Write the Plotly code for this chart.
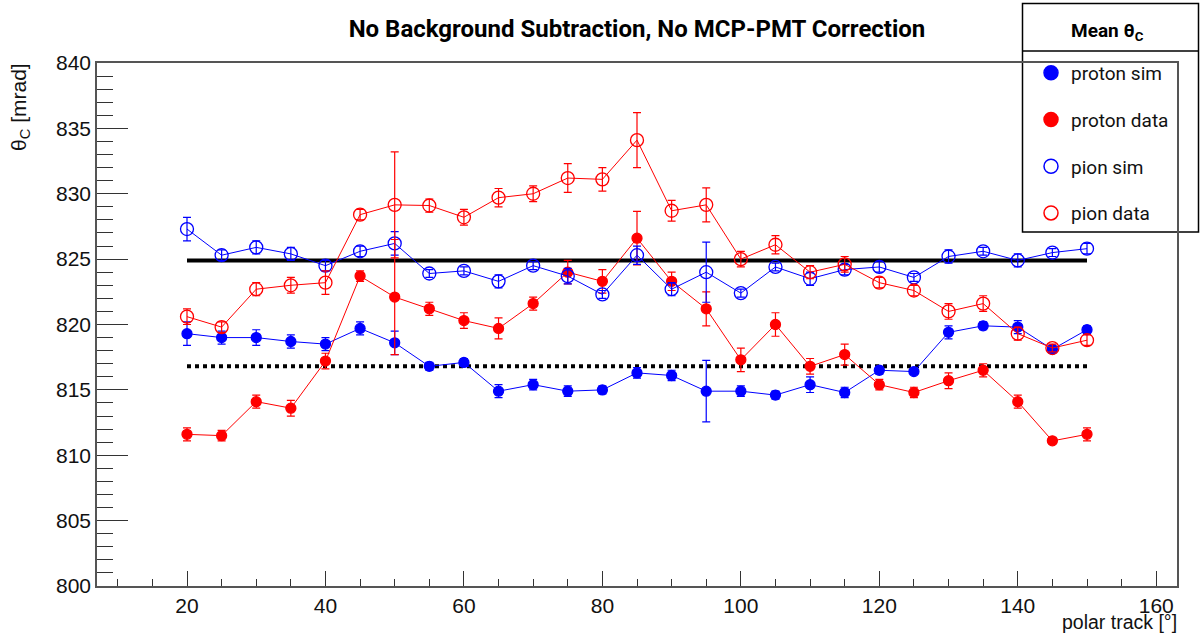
import plotly.graph_objects as go

# ---------------- data ----------------
polar = [20, 25, 30, 35, 40, 45, 50, 55, 60, 65, 70, 75, 80, 85, 90, 95,
         100, 105, 110, 115, 120, 125, 130, 135, 140, 145, 150]

proton_sim = [819.3, 819.0, 819.0, 818.7, 818.5, 819.7, 818.6, 816.8, 817.1, 814.9,
              815.4, 814.9, 815.0, 816.3, 816.1, 814.9, 814.9, 814.6, 815.4, 814.8,
              816.5, 816.4, 819.4, 819.9, 819.8, 818.1, 819.6]
proton_sim_err = [0.9, 0.5, 0.6, 0.5, 0.5, 0.5, 0.9, 0.3, 0.3, 0.5, 0.4, 0.4, 0.3, 0.4,
                  0.4, 2.35, 0.4, 0.3, 0.6, 0.4, 0.3, 0.2, 0.5, 0.3, 0.5, 0.3, 0.3]

proton_data = [811.6, 811.5, 814.1, 813.6, 817.2, 823.7, 822.1, 821.2, 820.3, 819.7,
               821.6, 824.0, 823.3, 826.6, 823.3, 821.2, 817.3, 820.0, 816.8, 817.7,
               815.4, 814.8, 815.7, 816.5, 814.1, 811.1, 811.6]
proton_data_err = [0.5, 0.4, 0.5, 0.6, 0.6, 0.4, 4.4, 0.5, 0.6, 0.8, 0.5, 0.9, 0.9, 2.05,
                   0.7, 1.3, 0.9, 0.9, 0.6, 0.8, 0.4, 0.4, 0.6, 0.5, 0.5, 0.2, 0.5]

pion_sim = [827.3, 825.3, 825.9, 825.4, 824.5, 825.6, 826.2, 823.9, 824.1, 823.3,
            824.5, 823.7, 822.3, 825.3, 822.7, 824.0, 822.4, 824.4, 823.5, 824.2,
            824.4, 823.6, 825.2, 825.6, 824.9, 825.5, 825.8]
pion_sim_err = [0.9, 0.4, 0.5, 0.5, 0.4, 0.4, 0.9, 0.3, 0.3, 0.5, 0.3, 0.6, 0.3, 0.7,
                0.5, 2.3, 0.3, 0.3, 0.5, 0.4, 0.4, 0.3, 0.5, 0.3, 0.5, 0.3, 0.4]

pion_data = [820.6, 819.8, 822.7, 823.0, 823.2, 828.4, 829.15, 829.1, 828.2, 829.7,
             830.0, 831.2, 831.1, 834.1, 828.7, 829.15, 825.0, 826.1, 824.0, 824.6,
             823.2, 822.6, 821.0, 821.6, 819.3, 818.2, 818.8]
pion_data_err = [0.6, 0.4, 0.5, 0.6, 0.9, 0.4, 4.05, 0.5, 0.6, 0.7, 0.6, 1.1, 0.9, 2.1,
                 0.8, 1.3, 0.6, 0.7, 0.5, 0.6, 0.4, 0.4, 0.6, 0.6, 0.5, 0.3, 0.4]

ref_range = [20, 150]
pion_ref = 824.9
proton_ref = 816.8

series_names = ["proton sim", "proton data", "pion sim", "pion data"]

BLUE = "#0000ff"
RED = "#ff0000"

# ---------------- figure ----------------
fig = go.Figure()

# reference lines
fig.add_trace(go.Scatter(x=ref_range, y=[pion_ref, pion_ref], mode="lines",
                         line=dict(color="black", width=4), showlegend=False,
                         hoverinfo="skip"))
fig.add_trace(go.Scatter(x=ref_range, y=[proton_ref, proton_ref], mode="lines",
                         line=dict(color="black", width=4, dash="dot"),
                         showlegend=False, hoverinfo="skip"))

specs = [
    (proton_sim, proton_sim_err, BLUE, "circle", 10),
    (proton_data, proton_data_err, RED, "circle", 10),
    (pion_sim, pion_sim_err, BLUE, "circle-open", 13),
    (pion_data, pion_data_err, RED, "circle-open", 13),
]

for name, (vals, errs, col, sym, sz) in zip(series_names, specs):
    fig.add_trace(go.Scatter(
        x=polar, y=vals, mode="lines+markers",
        line=dict(color=col, width=1),
        marker=dict(color=col, symbol=sym, size=sz, line=dict(color=col, width=1.3)),
        error_y=dict(type="data", array=errs, color=col, thickness=1.2, width=4),
        showlegend=False,
    ))

# legend-only entries
for i, (name, (vals, errs, col, sym, sz)) in enumerate(zip(series_names, specs)):
    fig.add_trace(go.Scatter(
        x=[None], y=[None], mode="markers", name=name, legendgroup=f"g{i}",
        marker=dict(color=col, symbol=sym, size=14, line=dict(color=col, width=1.5)),
    ))

L, R, T, B = 97, 23, 63, 48
W, H = 1200, 634
pw, ph = W - L - R, H - T - B


def px2x(px):
    return (px - L) / pw


def py2y(py):
    return (H - B - py) / ph


axis_font = dict(family="Liberation Sans, Arial, sans-serif", size=21, color="#111")

fig.update_layout(
    width=W, height=H,
    margin=dict(l=L, r=R, t=T, b=B),
    paper_bgcolor="white", plot_bgcolor="white",
    title=dict(text="<b>No Background Subtraction, No MCP-PMT Correction</b>",
               font=dict(family="Roboto, sans-serif", size=24, color="black"),
               x=px2x(637), xanchor="center", xref="paper",
               y=1 - 29 / H, yanchor="middle"),
    showlegend=True,
    legend=dict(
        x=px2x(1031), xanchor="left", y=py2y(54), yanchor="top",
        bgcolor="rgba(0,0,0,0)", borderwidth=0,
        font=dict(family="Roboto, sans-serif", size=19, color="#111"),
        tracegroupgap=19, traceorder="grouped",
    ),
    xaxis=dict(
        range=[7, 163], showgrid=False, zeroline=False,
        showline=True, mirror=True, linecolor="#555", linewidth=1.5,
        ticks="inside", ticklen=15, tickwidth=1.3, tickcolor="#333",
        tick0=0, dtick=20, tickfont=axis_font,
        minor=dict(ticks="inside", ticklen=7, dtick=5, tick0=0, tickcolor="#333",
                   tickwidth=1.2, showgrid=False),
    ),
    yaxis=dict(
        range=[800, 840], showgrid=False, zeroline=False,
        showline=True, mirror=True, linecolor="#555", linewidth=1.5,
        ticks="inside", ticklen=31, tickwidth=1.3, tickcolor="#333",
        tick0=800, dtick=5, tickfont=axis_font,
        minor=dict(ticks="inside", ticklen=16, dtick=1, tick0=800, tickcolor="#333",
                   tickwidth=1.2, showgrid=False),
    ),
)

# legend box + header
fig.add_shape(type="rect", xref="paper", yref="paper",
              x0=px2x(1022.5), x1=px2x(1198.5), y0=py2y(232), y1=py2y(3.5),
              line=dict(color="black", width=1.5), fillcolor="white", layer="below")
fig.add_shape(type="line", xref="paper", yref="paper",
              x0=px2x(1022.5), x1=px2x(1198.5), y0=py2y(51), y1=py2y(51),
              line=dict(color="black", width=1.5))
fig.add_annotation(text="<b>Mean θ<sub>C</sub></b>", xref="paper", yref="paper",
                   x=px2x(1107), y=py2y(31), xanchor="center", yanchor="middle",
                   showarrow=False,
                   font=dict(family="Roboto, sans-serif", size=19, color="black"))

# axis titles
fig.add_annotation(text="θ<sub>C</sub> [mrad]", xref="paper", yref="paper",
                   x=px2x(20), y=py2y(61), xanchor="center", yanchor="top",
                   textangle=-90, showarrow=False,
                   font=dict(family="Liberation Sans, Arial, sans-serif", size=21, color="#111"))
fig.add_annotation(text="polar track [°]", xref="paper", yref="paper",
                   x=px2x(1178), y=py2y(634), xanchor="right", yanchor="bottom",
                   showarrow=False, borderpad=0,
                   font=dict(family="Liberation Sans, Arial, sans-serif", size=19.5, color="#111"))

fig.write_html("out.html", config={"displayModeBar": False},
               post_script="document.body.style.margin='0';document.body.style.overflow='hidden';")
